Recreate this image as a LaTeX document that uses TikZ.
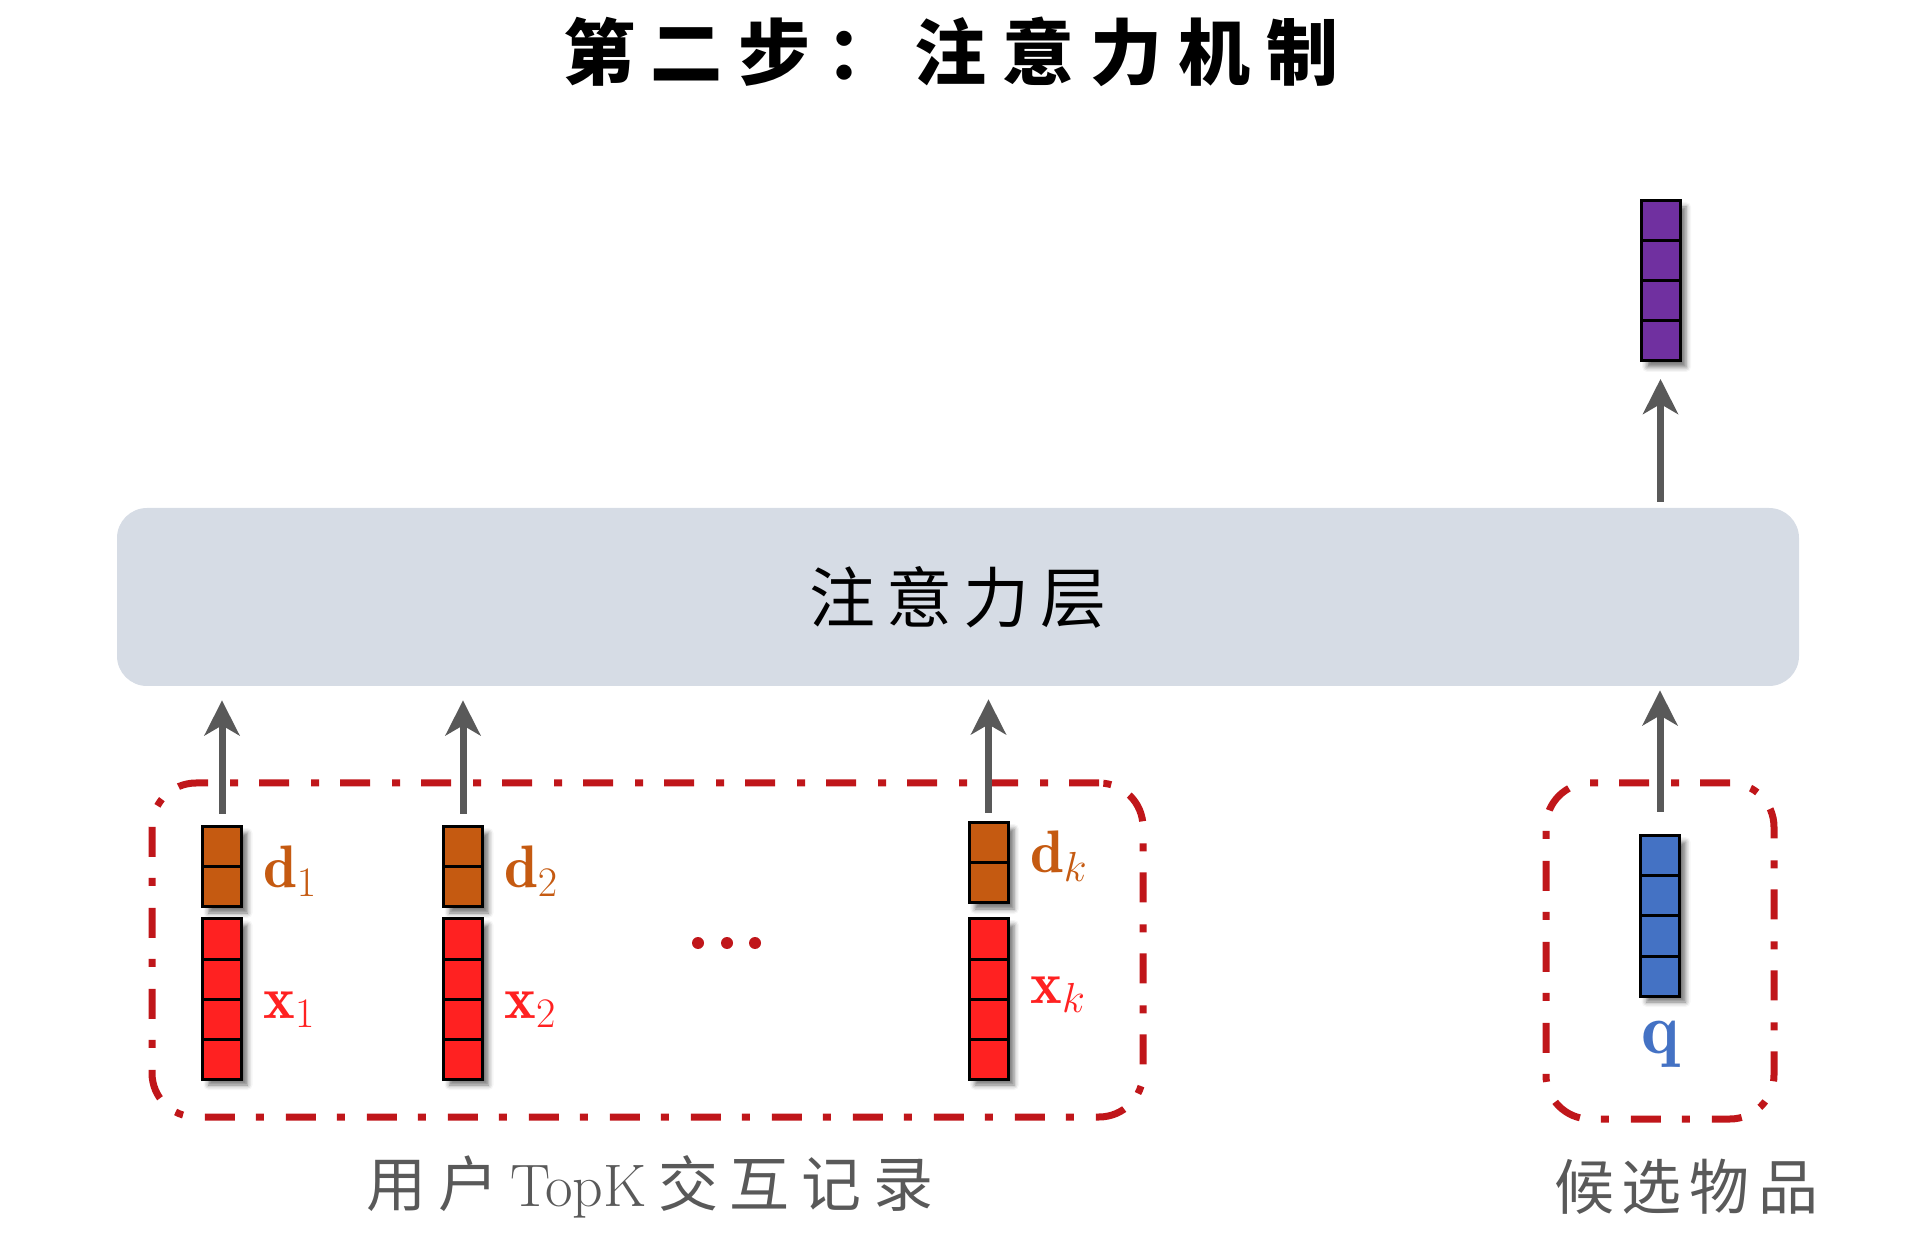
\RequirePackage{fix-cm}
\documentclass[tikz,border=0pt]{standalone}
\usepackage{fontspec}
\newfontfamily\cjk{Noto Sans CJK SC}
\usetikzlibrary{arrows.meta,shadows.blur}
\definecolor{brn}{HTML}{C55A11}
\definecolor{redc}{HTML}{FF2121}
\definecolor{bluec}{HTML}{4472C4}
\definecolor{purp}{HTML}{7030A0}
\definecolor{dred}{HTML}{C0161A}
\definecolor{arrg}{HTML}{595959}
\definecolor{attc}{HTML}{D6DCE5}
\definecolor{txtg}{HTML}{595959}
\newcommand\gT{\hspace{8pt}}
\newcommand\gA{\hspace{5.5pt}}
\newcommand\gB{\hspace{4pt}}
\newcommand\gC{\hspace{5.8pt}}
\tikzset{
  vecbox/.style={draw=black, line width=1.5pt, minimum width=19.5pt, inner sep=0pt, outer sep=0pt, anchor=north,
    blur shadow={shadow xshift=3pt, shadow yshift=-3pt, shadow blur radius=2.5pt, shadow opacity=55}},
  arr/.style={draw=arrg, line width=3.5pt, -{Stealth[length=17.5pt,width=17.5pt,inset=5pt]}},
  grp/.style={draw=dred, line width=3.5pt, dash pattern=on 15pt off 10.5pt on 4pt off 11pt, rounded corners=22pt, inner sep=0pt},
  lbl/.style={font=\fontsize{30}{36}\selectfont, anchor=base west, inner sep=0pt},
  att/.style={fill=attc, rounded corners=15pt, minimum width=841pt, minimum height=89pt, inner sep=0pt},
  dot/.style={circle, fill=dred, minimum size=6pt, inner sep=0pt},
}
\newcommand\mkvec[6]{%
  \node[vecbox, fill=#6, minimum height=#4*#5*0.5pt] (#1) at (#2,#3) {};
  \pgfmathtruncatemacro\nsep{#4-1}
  \foreach \i in {1,...,\nsep}{
    \draw[line width=1.5pt] ([yshift=-\i*#5*0.5pt]#1.north west) -- ([yshift=-\i*#5*0.5pt]#1.north east);
  }
}
\begin{document}
\begin{tikzpicture}[x=0.5pt,y=-0.5pt]
\useasboundingbox (0,0) rectangle (1924,1256);
% title
\node[font=\cjk\bfseries\fontsize{36}{36}\selectfont, inner sep=0pt] (title) at (951,52)
  {第\gT 二\gT 步\gT ：\gT 注\gT 意\gT 力\gT 机\gT 制};
% attention layer
\node[att, font=\cjk\fontsize{33}{33}\selectfont] (att) at (958,597) {注\gA 意\gA 力\gA 层};
% dashed groups
\node[grp, minimum width=495.5pt, minimum height=167pt] (g1) at (647.5,950) {};
\node[grp, minimum width=114pt, minimum height=168pt] (g2) at (1660,951) {};
% vectors
\mkvec{d1}{222}{827}{2}{40}{brn}
\mkvec{x1}{222}{919}{4}{40}{redc}
\mkvec{d2}{463}{827}{2}{40}{brn}
\mkvec{x2}{463}{919}{4}{40}{redc}
\mkvec{dk}{988.5}{823}{2}{40}{brn}
\mkvec{xk}{988.5}{919}{4}{40}{redc}
\mkvec{q}{1660}{836}{4}{40}{bluec}
\mkvec{o}{1660.5}{201}{4}{40}{purp}
% labels
\node[lbl, text=brn] (ld1) at (263,888) {$\mathbf{d}_1$};
\node[lbl, text=redc] (lx1) at (263,1018) {$\mathbf{x}_1$};
\node[lbl, text=brn] (ld2) at (504,888) {$\mathbf{d}_2$};
\node[lbl, text=redc] (lx2) at (504,1018) {$\mathbf{x}_2$};
\node[lbl, text=brn] (ldk) at (1030,873) {$\mathbf{d}_k$};
\node[lbl, text=redc] (lxk) at (1030,1003) {$\mathbf{x}_k$};
\node[font=\fontsize{36}{38}\selectfont, anchor=base, inner sep=0pt, text=bluec] (lq) at (1660,1053) {$\mathbf{q}$};
% ellipsis
\node[dot] (e1) at (698,943) {};
\node[dot] (e2) at (727,943) {};
\node[dot] (e3) at (755,943) {};
% bottom captions
\node[font=\cjk\fontsize{30}{30}\selectfont, text=txtg, inner sep=0pt] (cap1) at (650,1187)
  {用\gC 户\gC {\rmfamily TopK}\gC 交\gC 互\gC 记\gC 录};
\node[font=\cjk\fontsize{30}{30}\selectfont, text=txtg, inner sep=0pt] (cap2) at (1686,1187)
  {候\gB 选\gB 物\gB 品};
% arrows
\draw[arr, shorten <=6.5pt, shorten >=7pt] (d1.north) -- (d1.north |- att.south);
\draw[arr, shorten <=6.5pt, shorten >=7pt] (d2.north) -- (d2.north |- att.south);
\draw[arr, shorten <=5pt, shorten >=6.5pt] (dk.north) -- (dk.north |- att.south);
\draw[arr, shorten <=12pt, shorten >=2pt] (q.north) -- (q.north |- att.south);
\draw[arr, shorten <=3pt, shorten >=9pt] (att.north -| o.south) -- (o.south);
\end{tikzpicture}
\end{document}
